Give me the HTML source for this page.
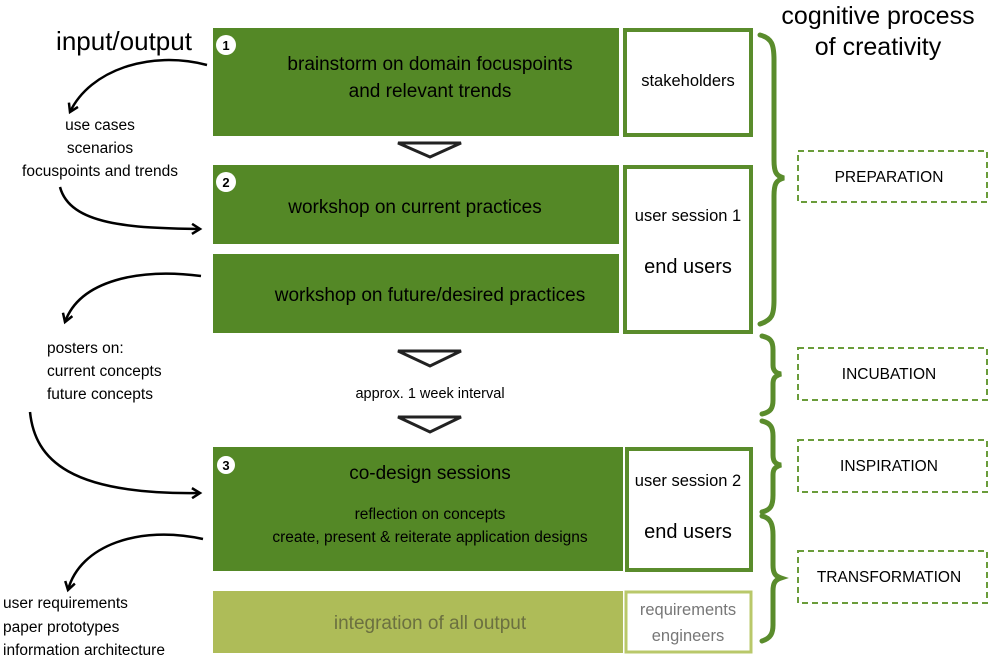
<!DOCTYPE html>
<html><head><meta charset="utf-8"><style>
html,body{margin:0;padding:0;background:#fff;}
svg{display:block;font-family:"Liberation Sans",sans-serif;}
</style></head><body>
<svg width="1000" height="666" viewBox="0 0 1000 666" xmlns="http://www.w3.org/2000/svg">
<defs>
<marker id="ah" markerWidth="12" markerHeight="12" refX="9" refY="6" orient="auto" markerUnits="userSpaceOnUse">
<path d="M1,1 L9,6 L1,11" fill="none" stroke="#000" stroke-width="2.5"/>
</marker>
</defs>
<text x="124" y="50" font-size="26" text-anchor="middle" fill="#000">input/output</text>
<text x="878" y="24" font-size="25" text-anchor="middle">cognitive process</text>
<text x="878" y="55" font-size="25" text-anchor="middle">of creativity</text>

<g fill="#548826">
<rect x="213" y="28" width="406" height="108"/>
<rect x="213" y="165" width="406" height="79"/>
<rect x="213" y="254" width="406" height="79"/>
<rect x="213" y="447" width="410" height="124"/>
</g>
<rect x="213" y="591" width="410" height="62" fill="#aebc58"/>

<g fill="#fff" stroke="#5a8c2c" stroke-width="4">
<rect x="625" y="30" width="126" height="105"/>
<rect x="625" y="167" width="126" height="165"/>
<rect x="627" y="449" width="124" height="121"/>
</g>
<rect x="626" y="592" width="125" height="60" fill="#fff" stroke="#b9c86a" stroke-width="3"/>

<g fill="#fff"><circle cx="226" cy="45" r="10"/><circle cx="226" cy="182" r="10"/><circle cx="226" cy="465" r="9"/></g>
<g font-size="13" text-anchor="middle" font-weight="bold"><text x="226" y="50">1</text><text x="226" y="187">2</text><text x="226" y="470">3</text></g>

<g font-size="19" text-anchor="middle" fill="#000">
<text x="430" y="70">brainstorm on domain focuspoints</text>
<text x="430" y="97">and relevant trends</text>
<text x="415" y="213">workshop on current practices</text>
<text x="430" y="301">workshop on future/desired practices</text>
<text x="430" y="479">co-design sessions</text>
</g>
<g font-size="15.5" text-anchor="middle">
<text x="430" y="519">reflection on concepts</text>
<text x="430" y="542">create, present &amp; reiterate application designs</text>
</g>
<text x="430" y="629" font-size="19" text-anchor="middle" fill="#6b7040">integration of all output</text>
<g text-anchor="middle" fill="#000">
<text x="688" y="86" font-size="16.5">stakeholders</text>
<text x="688" y="221" font-size="16.5">user session 1</text>
<text x="688" y="273" font-size="20">end users</text>
<text x="688" y="486" font-size="16.5">user session 2</text>
<text x="688" y="538" font-size="20">end users</text>
</g>
<g text-anchor="middle" fill="#777" font-size="16.5">
<text x="688" y="615">requirements</text>
<text x="688" y="641">engineers</text>
</g>

<g fill="#fff" stroke="#222" stroke-width="3">
<path d="M398,143 L461,143 L430,157 Z"/>
<path d="M398,351 L461,351 L430,366 Z"/>
<path d="M398,417 L461,417 L430,432 Z"/>
</g>
<text x="430" y="398" font-size="14.5" text-anchor="middle">approx. 1 week interval</text>

<g font-size="15.5" text-anchor="middle">
<text x="100" y="130">use cases</text>
<text x="100" y="153">scenarios</text>
<text x="100" y="176">focuspoints and trends</text>
</g>
<g font-size="15.5">
<text x="47" y="353">posters on:</text>
<text x="47" y="376">current concepts</text>
<text x="47" y="399">future concepts</text>
<text x="3" y="608">user requirements</text>
<text x="3" y="632">paper prototypes</text>
<text x="3" y="655">information architecture</text>
</g>

<g fill="none" stroke="#000" stroke-width="2.5" marker-end="url(#ah)">
<path d="M207,65 C150,50 90,70 70,112"/>
<path d="M60,187 C70,225 130,228 200,229"/>
<path d="M201,276 C140,268 80,280 65,322"/>
<path d="M30,412 C35,460 70,495 200,493"/>
<path d="M203,539 C140,525 80,545 68,590"/>
</g>

<g fill="none" stroke="#5a8c2c" stroke-width="5" stroke-linecap="round">
<path d="M760,35 C772,38 774,45 774,60 L774,160 C774,172 776,176 784,178 C776,180 774,184 774,196 L774,300 C774,315 772,320 760,324"/>
<path d="M762,336 C771,338 773,342 773,350 L773,365 C773,370 775,373 781,374 C775,376 773,378 773,384 L773,400 C773,408 771,412 762,414"/>
<path d="M762,421 C771,423 773,428 773,436 L773,455 C773,461 775,464 781,465 C775,467 773,469 773,475 L773,495 C773,505 771,510 762,512"/>
<path d="M762,516 C771,518 773,525 773,535 L773,565 C773,573 775,576 781,578 C775,580 773,583 773,591 L773,625 C773,633 771,638 762,641"/>
</g>

<g fill="none" stroke="#6a9c3a" stroke-width="2" stroke-dasharray="6,4">
<rect x="798" y="151" width="189" height="51"/>
<rect x="798" y="348" width="189" height="52"/>
<rect x="798" y="440" width="189" height="52"/>
<rect x="798" y="551" width="189" height="52"/>
</g>
<g font-size="15.5" text-anchor="middle" fill="#000">
<text x="889" y="182">PREPARATION</text>
<text x="889" y="379">INCUBATION</text>
<text x="889" y="471">INSPIRATION</text>
<text x="889" y="582">TRANSFORMATION</text>
</g>
</svg>
</body></html>
